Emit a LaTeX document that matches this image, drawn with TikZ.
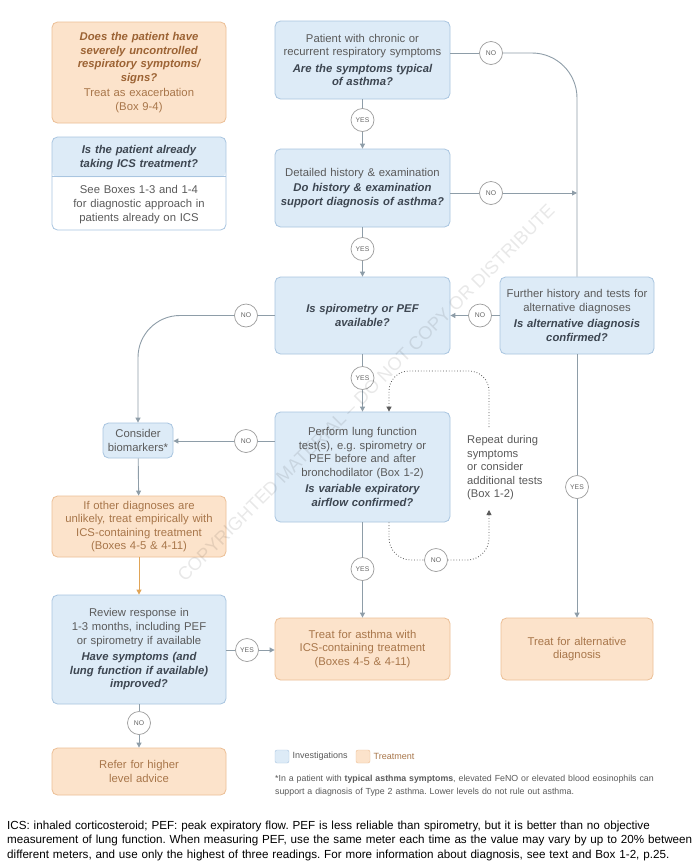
\documentclass[tikz,border=0pt]{standalone}
\usepackage{fontspec}
\setmainfont{Liberation Sans}
\newfontfamily\narrowfont[FakeStretch=0.995]{Liberation Sans}
\usetikzlibrary{arrows.meta,calc}
\definecolor{fillB}{HTML}{DDEBF7}
\definecolor{bordB}{HTML}{A9C5E0}
\definecolor{fillO}{HTML}{FCE3CB}
\definecolor{bordO}{HTML}{ECBF96}
\definecolor{txtB}{HTML}{5A5A5A}
\definecolor{qB}{HTML}{3D4651}
\definecolor{txtO}{HTML}{A8764A}
\definecolor{qO}{HTML}{9C6334}
\definecolor{lineC}{HTML}{8E9DA8}
\definecolor{circC}{HTML}{9C9C9C}
\definecolor{circT}{HTML}{666666}
\definecolor{dotC}{HTML}{5A5A5A}
\definecolor{orArr}{HTML}{E0A457}
\definecolor{fnC}{HTML}{5A5A5A}
\newcommand{\bxfont}{\fontsize{11.3}{13.6}\selectfont}
\newcommand{\bqB}[1]{{\color{qB}\bfseries\itshape #1}}
\newcommand{\bqO}[1]{{\color{qO}\bfseries\itshape #1}}
\tikzset{
  inv/.style={draw=bordB, fill=fillB, rounded corners=5.5pt, line width=0.8pt, align=center, text=txtB, font=\bxfont, inner sep=2pt},
  trt/.style={draw=bordO, fill=fillO, rounded corners=5.5pt, line width=0.8pt, align=center, text=txtO, font=\bxfont, inner sep=2pt},
  yn/.style={circle, draw=circC, fill=white, minimum size=23pt, inner sep=0pt, font=\fontsize{6.8}{7}\selectfont, text=circT, line width=0.7pt},
  conn/.style={draw=lineC, line width=0.9pt},
  arr/.style={conn, -{Triangle[length=5pt,width=5pt]}},
  dotln/.style={draw=dotC, line width=0.8pt, dotted},
  dotarr/.style={dotln, -{Triangle[length=5pt,width=5pt]}},
}
\begin{document}
\frenchspacing
\begin{tikzpicture}[x=1pt,y=-1pt]
\useasboundingbox[fill=white] (0,0) rectangle (699,868);

% ---- left info boxes
\node[trt, minimum width=174pt, minimum height=101pt, text width=168pt] (A) at (139,72.5)
  {\bqO{Does the patient have\\severely uncontrolled\\respiratory symptoms/\\signs?}\\[1.5pt]Treat as exacerbation\\(Box 9-4)};
\node[inv, fill=white, minimum width=174pt, minimum height=93pt,
  path picture={\fill[fillB] (path picture bounding box.north west) rectangle ([yshift=-40pt]path picture bounding box.north east);}] (B) at (139,183.5) {};
\draw[bordB, line width=0.8pt] ([yshift=-40pt]B.north west) -- ([yshift=-40pt]B.north east);
\node[align=center, font=\bxfont, text=qB, text width=168pt] (Bh) at (139,157.5) {\bfseries\itshape Is the patient already\\taking ICS treatment?};
\node[align=center, font=\bxfont, text=txtB, text width=168pt] (Bb) at (139,204.5) {See Boxes 1-3 and 1-4\\for diagnostic approach in\\patients already on ICS};

% ---- main column
\node[inv, minimum width=175pt, minimum height=78pt, text width=170pt] (b1) at (362.5,60)
  {Patient with chronic or\\recurrent respiratory symptoms\\[3pt]\bqB{Are the symptoms typical\\of asthma?}};
\node[inv, minimum width=175pt, minimum height=78pt, text width=170pt] (b2) at (362.5,188)
  {Detailed history \& examination\\[2pt]\bqB{Do history \& examination\\support diagnosis of asthma?}};
\node[inv, minimum width=175pt, minimum height=77pt, text width=170pt] (b3) at (362.5,315.5)
  {\bqB{Is spirometry or PEF\\available?}};
\node[inv, minimum width=152pt, minimum height=77pt, text width=150pt] (fu) at (577,315.5)
  {Further history and tests for\\alternative diagnoses\\[3pt]\bqB{Is alternative diagnosis\\confirmed?}};
\node[inv, minimum width=175pt, minimum height=110pt, text width=170pt] (pf) at (362.5,467)
  {Perform lung function\\test(s), e.g. spirometry or\\PEF before and after\\bronchodilator (Box 1-2)\\[3pt]\bqB{Is variable expiratory\\airflow confirmed?}};
\node[inv, minimum width=70pt, minimum height=35pt, inner sep=1pt, text width=68pt] (bio) at (138,440.5)
  {Consider\\biomarkers*};
\node[trt, minimum width=174pt, minimum height=61pt, text width=170pt] (emp) at (139,526.5)
  {If other diagnoses are\\unlikely, treat empirically with\\ICS-containing treatment\\(Boxes 4-5 \& 4-11)};
\node[inv, minimum width=174pt, minimum height=109pt, text width=170pt] (rv) at (139,649.5)
  {Review response in\\1-3 months, including PEF\\or spirometry if available\\[3pt]\bqB{Have symptoms (and\\lung function if available)\\improved?}};
\node[trt, minimum width=174pt, minimum height=47pt, text width=170pt] (rf) at (139,771.5)
  {Refer for higher\\level advice};
\node[trt, minimum width=175pt, minimum height=62pt, text width=170pt] (tr) at (362.5,649)
  {Treat for asthma with\\ICS-containing treatment\\(Boxes 4-5 \& 4-11)};
\node[trt, minimum width=152pt, minimum height=62pt, text width=148pt] (alt) at (577,649)
  {Treat for alternative\\diagnosis};

% ---- yes/no circles
\node[yn] (no1) at (491,53) {NO};
\node[yn] (no2) at (491,193) {NO};
\node[yn] (yes1) at (362.5,120) {YES};
\node[yn] (yes2) at (362.5,249) {YES};
\node[yn] (noF) at (480,315.5) {NO};
\node[yn] (no3) at (246,315.5) {NO};
\node[yn] (yes3) at (362.5,378) {YES};
\node[yn] (no4) at (246,441) {NO};
\node[yn] (yes4) at (362.5,569) {YES};
\node[yn] (yesF) at (577,487) {YES};
\node[yn] (yes5) at (247,650) {YES};
\node[yn] (no6) at (139,723) {NO};
\node[yn] (noL) at (436,560) {NO};

\coordinate (c1) at (577,53);
\coordinate (c2) at (577,193);
\coordinate (c3) at (138,315.5);

% ---- connectors
\draw[conn] (b1.east |- no1) -- (no1);
\draw[conn, rounded corners=45pt] (no1) -- (c1) -- (fu.north);
\draw[conn] (b2.east |- no2) -- (no2);
\draw[arr] (no2) -- (c2);
\draw[conn] (b1) -- (yes1);
\draw[arr] (yes1) -- (b2);
\draw[conn] (b2) -- (yes2);
\draw[arr] (yes2) -- (b3);
\draw[conn] (fu) -- (noF);
\draw[arr] (noF) -- (b3);
\draw[conn] (fu) -- (yesF);
\draw[arr] (yesF) -- (alt);
\draw[conn] (b3) -- (no3);
\draw[arr, rounded corners=42pt] (no3) -- (c3) -- (bio.north);
\draw[conn] (b3) -- (yes3);
\draw[arr] (yes3) -- (pf);
\draw[conn] (pf.west |- no4) -- (no4);
\draw[arr] (no4) -- (bio.east |- no4);
\draw[arr] (bio) -- (emp);
\draw[draw=orArr, line width=0.9pt, -{Triangle[length=5pt,width=5pt]}] (emp) -- (rv);
\draw[conn] (pf) -- (yes4);
\draw[arr] (yes4) -- (tr);
\draw[conn] (rv.east |- yes5) -- (yes5);
\draw[arr] (yes5) -- (tr.west |- yes5);
\draw[conn] (rv) -- (no6);
\draw[arr] (no6) -- (rf);

% ---- dotted repeat loop
\node[anchor=north west, align=left, font=\fontsize{11.2}{13.5}\selectfont, text=txtB, inner sep=0pt, text width=100pt] (rep) at (467,435.5)
  {Repeat during\\symptoms\\or consider\\additional tests\\(Box 1-2)};
\coordinate (lb) at ($(pf.south)+(26.5,0)$);
\coordinate (lt) at ($(pf.north)+(26.5,0)$);
\coordinate (rb) at (489,510);
\coordinate (rt) at (489,427);
\coordinate (tc) at (489,371);
\coordinate (tl) at (389,371);
\draw[dotln, rounded corners=22pt] (lb) -- (lb |- noL) -- (noL);
\draw[dotarr, rounded corners=22pt] (noL) -- (rb |- noL) -- (rb);
\draw[dotarr, rounded corners=20pt] (rt) -- (tc) -- (tl) -- (lt);

% ---- legend and footnote
\node[draw=bordB, fill=fillB, rounded corners=2pt, minimum width=14pt, minimum height=13pt, inner sep=0pt] (lgB) at (282,756.5) {};
\node[anchor=west, font=\fontsize{9}{10}\selectfont, text=txtB, inner sep=0pt] (lgBt) at (292.5,756.5) {Investigations};
\node[draw=bordO, fill=fillO, rounded corners=2pt, minimum width=14pt, minimum height=13pt, inner sep=0pt] (lgO) at (363,756.5) {};
\node[anchor=west, font=\fontsize{9}{10}\selectfont, text=txtO, inner sep=0pt] (lgOt) at (373.5,756.5) {Treatment};
\node[anchor=north west, align=left, font=\fontsize{8.8}{13}\selectfont, text=fnC, inner sep=0pt, text width=420pt] (fn) at (275,775)
  {*In a patient with \textbf{typical asthma symptoms}, elevated FeNO or elevated blood eosinophils can\\support a diagnosis of Type 2 asthma. Lower levels do not rule out asthma.};

% ---- bottom text
\node[anchor=north west, align=left, font=\narrowfont\fontsize{11.7}{14.5}\selectfont, text=black, inner sep=0pt, text width=695pt] (bt) at (7,820.5)
  {ICS: inhaled corticosteroid; PEF: peak expiratory flow. PEF is less reliable than spirometry, but it is better than no objective\\measurement of lung function. When measuring PEF, use the same meter each time as the value may vary by up to 20\% between\\different meters, and use only the highest of three readings. For more information about diagnosis, see text and Box 1-2, p.25.};

% ---- watermark
\node[rotate=45, text=black, opacity=0.09, font=\fontsize{18.3}{18}\selectfont] (wm) at (366,393) {COPYRIGHTED MATERIAL – DO NOT COPY OR DISTRIBUTE};
\end{tikzpicture}
\end{document}
